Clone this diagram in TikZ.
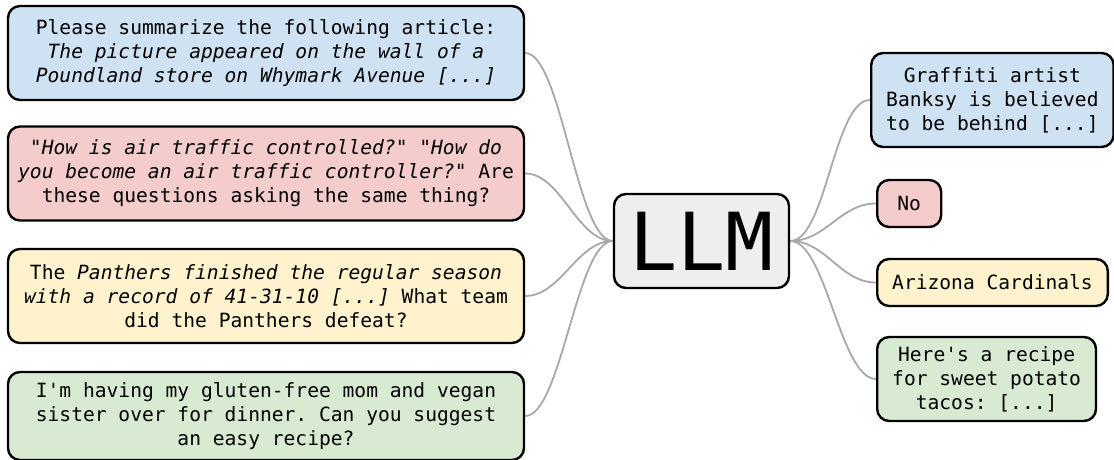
\documentclass[tikz,border=0pt]{standalone}
\usepackage{fontspec}
\setmonofont{DejaVu Sans Mono}
\usepackage{tikz}
\usetikzlibrary{
    positioning,
    backgrounds
}
\definecolor{BoxBlue}{HTML}{CFE2F3}
\definecolor{BoxRed}{HTML}{F4CCCC}
\definecolor{BoxYellow}{HTML}{FFF2CC}
\definecolor{BoxGreen}{HTML}{D9EAD3}
\definecolor{BoxGray}{HTML}{EEEEEE}
\definecolor{LinkGray}{HTML}{A8A8A8}

\begin{document}
\begin{tikzpicture}[
    box/.style={rectangle, draw, line width=1.2pt, rounded corners=6pt, align=center, inner xsep=7.5pt, font=\ttfamily\fontsize{9.8}{12}\selectfont},
    qbox/.style={box, inner xsep=2pt, minimum width=258pt, minimum height=47pt},
    abox/.style={box, anchor=west},
    model/.style={box, fill=BoxGray, minimum width=87.5pt, minimum height=47pt, font=\ttfamily\fontsize{40}{40}\selectfont},
    link/.style={line width=0.9pt, color=LinkGray},
]
\useasboundingbox (0,0) rectangle (557pt,-230pt);

% prompts
\node[qbox, fill=BoxBlue] (q1) at (133pt,-26.5pt) {Please summarize the following article:\\ \textit{The picture appeared on the wall of a}\\ \textit{Poundland store on Whymark Avenue [...]}};
\node[qbox, fill=BoxRed] (q2) at (133pt,-86.75pt) {\textit{"How is air traffic controlled?" "How do}\\ \textit{you become an air traffic controller?"} Are\\ these questions asking the same thing?};
\node[qbox, fill=BoxYellow] (q3) at (133pt,-148pt) {The \textit{Panthers finished the regular season}\\ \textit{with a record of 41-31-10 [...]} What team\\ did the Panthers defeat?};
\node[qbox, fill=BoxGreen, minimum height=44pt] (q4) at (133pt,-208pt) {I'm having my gluten-free mom and vegan\\ sister over for dinner. Can you suggest\\ an easy recipe?};

% model
\node[model] (llm) at (350.75pt,-120.5pt) {LLM};

% answers
\node[abox, fill=BoxBlue, minimum height=47pt] (a1) at (435pt,-50pt) {Graffiti artist\\ Banksy is believed\\ to be behind [...]};
\node[abox, fill=BoxRed, minimum width=32pt, minimum height=23.5pt] (a2) at (438pt,-101.75pt) {No};
\node[abox, fill=BoxYellow, minimum height=23.5pt] (a3) at (438pt,-141.25pt) {Arizona Cardinals};
\node[abox, fill=BoxGreen, minimum height=42pt] (a4) at (438pt,-189.5pt) {Here's a recipe\\ for sweet potato\\ tacos: [...]};

% connectors
\begin{scope}[on background layer]
\foreach \n in {q1,q2,q3,q4}{
  \draw[link] (\n.east) to[out=0, in=180, distance=18pt] (llm.west);
}
\foreach \n in {a1,a2,a3,a4}{
  \draw[link] (llm.east) to[out=0, in=180, distance=18pt] (\n.west);
}
\end{scope}
\end{tikzpicture}
\end{document}
